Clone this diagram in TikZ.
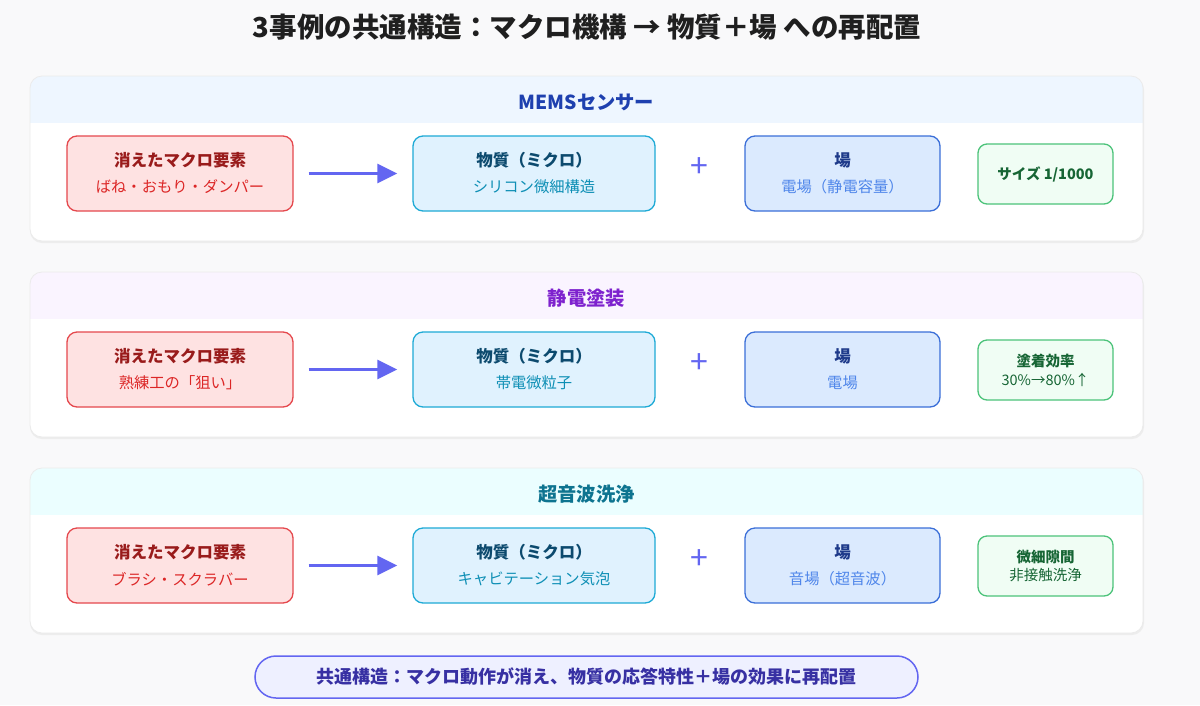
\documentclass[tikz,border=0pt]{standalone}
\usepackage{fontspec}
\setmainfont{Noto Sans CJK JP}
\usetikzlibrary{arrows.meta,calc}
\definecolor{bgc}{HTML}{F9F9FA}
\definecolor{redfill}{HTML}{FEE2E2}
\definecolor{redline}{HTML}{E5484D}
\definecolor{redtitle}{HTML}{991B1B}
\definecolor{redsub}{HTML}{DC2626}
\definecolor{cyfill}{HTML}{E0F2FE}
\definecolor{cyline}{HTML}{1EAAD6}
\definecolor{cytitle}{HTML}{0C4A6E}
\definecolor{cysub}{HTML}{0E8FB5}
\definecolor{blfill}{HTML}{DBEAFE}
\definecolor{blline}{HTML}{3B6FD8}
\definecolor{bltitle}{HTML}{1E3A8A}
\definecolor{blsub}{HTML}{4F86EA}
\definecolor{grfill}{HTML}{F0FDF4}
\definecolor{grline}{HTML}{4CC37A}
\definecolor{grtext}{HTML}{166534}
\definecolor{accent}{HTML}{6366F1}
\definecolor{hdA}{HTML}{EEF6FF}
\definecolor{hdB}{HTML}{FAF4FF}
\definecolor{hdC}{HTML}{EBFEFF}
\definecolor{tA}{HTML}{1E40AF}
\definecolor{tB}{HTML}{7E22CE}
\definecolor{tC}{HTML}{0E7490}
\definecolor{sumfill}{HTML}{EEF0FF}
\definecolor{sumtext}{HTML}{3730A3}
\tikzset{
  box/.style={draw, line width=1.3pt, rounded corners=10pt, minimum height=75pt, inner sep=0pt},
  redbox/.style={box, draw=redline, fill=redfill, minimum width=226pt},
  cybox/.style={box, draw=cyline, fill=cyfill, minimum width=242pt},
  blbox/.style={box, draw=blline, fill=blfill, minimum width=195pt},
  grbox/.style={box, draw=grline, fill=grfill, minimum width=135pt, minimum height=60pt, rounded corners=9pt},
  ttl/.style={font=\bfseries\fontsize{16.5}{19}\selectfont, inner sep=0pt},
  sub/.style={font=\fontsize{15.3}{18}\selectfont, inner sep=0pt},
  grttl/.style={font=\bfseries\fontsize{14.5}{17}\selectfont, inner sep=0pt, text=grtext},
  grsub/.style={font=\fontsize{14.5}{17}\selectfont, inner sep=0pt, text=grtext},
  hdtext/.style={font=\bfseries\fontsize{19.3}{22}\selectfont, inner sep=0pt},
  flow/.style={draw=accent, line width=3pt, -{Triangle[length=20pt,width=19pt]}, shorten <=15pt, shorten >=15pt},
  plus/.style={text=accent, font=\fontsize{32}{34}\selectfont, inner sep=0pt},
  panelshadow/.style={fill=black!7, rounded corners=12pt},
  panelframe/.style={draw=black!8, line width=0.8pt, rounded corners=12pt},
}
\begin{document}
\begin{tikzpicture}[x=1pt,y=-1pt]
\useasboundingbox (0,0) rectangle (1200,705);
\fill[bgc] (0,0) rectangle (1200,705);

\node[font=\bfseries\fontsize{27.5}{30}\selectfont, text=black!88, inner sep=0pt] (title) at (587,27) {3事例の共通構造：マクロ機構 → 物質＋場 への再配置};

% ---------- panel 1 ----------
\begin{scope}[yshift=0pt]
  \fill[panelshadow] (30,78) rectangle (1144,243);
  \begin{scope}
    \clip[rounded corners=12pt] (30,76) rectangle (1143,241);
    \fill[white] (30,76) rectangle (1143,241);
    \fill[hdA] (30,76) rectangle (1143,123);
  \end{scope}
  \draw[panelframe] (30,76) rectangle (1143,241);
  \node[hdtext, text=tA] (h1) at (586.5,102) {MEMSセンサー};
  \node[redbox] (r1) at (180,173.5) {};
  \node[ttl, text=redtitle] (r1t) at ([yshift=13.5pt]r1.center) {消えたマクロ要素};
  \node[sub, text=redsub] (r1s) at ([yshift=-13.5pt]r1.center) {ばね・おもり・ダンパー};
  \node[cybox] (m1) at (534,173.5) {};
  \node[ttl, text=cytitle] (m1t) at ([yshift=13.5pt]m1.center) {物質（ミクロ）};
  \node[sub, text=cysub] (m1s) at ([yshift=-13.5pt]m1.center) {シリコン微細構造};
  \node[plus] (p1) at (699,168) {+};
  \node[blbox] (f1) at (842.5,173.5) {};
  \node[ttl, text=bltitle] (f1t) at ([yshift=13.5pt]f1.center) {場};
  \node[sub, text=blsub] (f1s) at ([yshift=-13.5pt]f1.center) {電場（静電容量）};
  \node[grbox] (g1) at (1045.5,174) {};
  \node[grttl] (g1t) at (g1.center) {サイズ 1/1000};
  \draw[flow] (r1.east) -- (m1.west);
\end{scope}

% ---------- panel 2 ----------
\begin{scope}[yshift=-196pt]
  \fill[panelshadow] (30,78) rectangle (1144,243);
  \begin{scope}
    \clip[rounded corners=12pt] (30,76) rectangle (1143,241);
    \fill[white] (30,76) rectangle (1143,241);
    \fill[hdB] (30,76) rectangle (1143,123);
  \end{scope}
  \draw[panelframe] (30,76) rectangle (1143,241);
  \node[hdtext, text=tB] (h2) at (586.5,102) {静電塗装};
  \node[redbox] (r2) at (180,173.5) {};
  \node[ttl, text=redtitle] (r2t) at ([yshift=13.5pt]r2.center) {消えたマクロ要素};
  \node[sub, text=redsub] (r2s) at ([yshift=-13.5pt]r2.center) {熟練工の「狙い」};
  \node[cybox] (m2) at (534,173.5) {};
  \node[ttl, text=cytitle] (m2t) at ([yshift=13.5pt]m2.center) {物質（ミクロ）};
  \node[sub, text=cysub] (m2s) at ([yshift=-13.5pt]m2.center) {帯電微粒子};
  \node[plus] (p2) at (699,168) {+};
  \node[blbox] (f2) at (842.5,173.5) {};
  \node[ttl, text=bltitle] (f2t) at ([yshift=13.5pt]f2.center) {場};
  \node[sub, text=blsub] (f2s) at ([yshift=-13.5pt]f2.center) {電場};
  \node[grbox] (g2) at (1045.5,174) {};
  \node[grttl] (g2t) at ([yshift=9.5pt]g2.center) {塗着効率};
  \node[grsub] (g2s) at ([yshift=-9.5pt]g2.center) {30\%→80\%↑};
  \draw[flow] (r2.east) -- (m2.west);
\end{scope}

% ---------- panel 3 ----------
\begin{scope}[yshift=-392pt]
  \fill[panelshadow] (30,78) rectangle (1144,243);
  \begin{scope}
    \clip[rounded corners=12pt] (30,76) rectangle (1143,241);
    \fill[white] (30,76) rectangle (1143,241);
    \fill[hdC] (30,76) rectangle (1143,123);
  \end{scope}
  \draw[panelframe] (30,76) rectangle (1143,241);
  \node[hdtext, text=tC] (h3) at (586.5,102) {超音波洗浄};
  \node[redbox] (r3) at (180,173.5) {};
  \node[ttl, text=redtitle] (r3t) at ([yshift=13.5pt]r3.center) {消えたマクロ要素};
  \node[sub, text=redsub] (r3s) at ([yshift=-13.5pt]r3.center) {ブラシ・スクラバー};
  \node[cybox] (m3) at (534,173.5) {};
  \node[ttl, text=cytitle] (m3t) at ([yshift=13.5pt]m3.center) {物質（ミクロ）};
  \node[sub, text=cysub] (m3s) at ([yshift=-13.5pt]m3.center) {キャビテーション気泡};
  \node[plus] (p3) at (699,168) {+};
  \node[blbox] (f3) at (842.5,173.5) {};
  \node[ttl, text=bltitle] (f3t) at ([yshift=13.5pt]f3.center) {場};
  \node[sub, text=blsub] (f3s) at ([yshift=-13.5pt]f3.center) {音場（超音波）};
  \node[grbox] (g3) at (1045.5,174) {};
  \node[grttl] (g3t) at ([yshift=9.5pt]g3.center) {微細隙間};
  \node[grsub] (g3s) at ([yshift=-9.5pt]g3.center) {非接触洗浄};
  \draw[flow] (r3.east) -- (m3.west);
\end{scope}

% ---------- summary ----------
\node[draw=accent, line width=1.5pt, fill=sumfill, rounded corners=21pt, minimum width=663pt, minimum height=42pt, inner sep=0pt] (sum) at (586.5,677) {};
\node[font=\bfseries\fontsize{18}{21}\selectfont, text=sumtext, inner sep=0pt] (sumt) at (sum.center) {共通構造：マクロ動作が消え、物質の応答特性＋場の効果に再配置};
\end{tikzpicture}
\end{document}
